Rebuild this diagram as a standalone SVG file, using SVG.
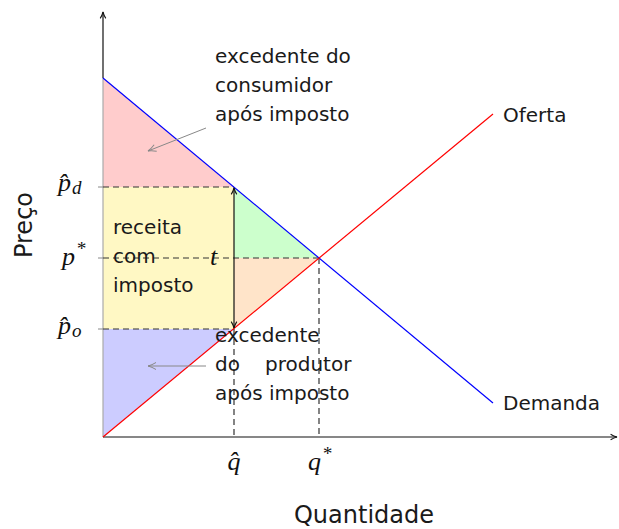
<svg xmlns="http://www.w3.org/2000/svg" width="619" height="529" viewBox="0 0 619 529">
<defs>
<style>
.txt{font-family:"DejaVu Sans",sans-serif;font-size:20px;fill:#1a1a1a}
.big{font-family:"DejaVu Sans",sans-serif;font-size:24px;fill:#1a1a1a}
.math{font-family:"Liberation Serif","DejaVu Serif",serif;font-style:italic;font-size:26px;fill:#111}
.sub{font-size:19px}
.dash{stroke:#333;stroke-width:1.2;stroke-dasharray:6,4;fill:none}
.axis{stroke:#111;stroke-width:1.2;fill:none}
.hint{stroke:#888;stroke-width:1;fill:none}
</style>
<marker id="ab" viewBox="0 0 10 10" refX="9" refY="5" markerWidth="8" markerHeight="8" orient="auto-start-reverse" markerUnits="userSpaceOnUse">
<path d="M1,1.5 Q5,4 9,5 Q5,6 1,8.5" fill="none" stroke="#111" stroke-width="1.3"/>
</marker>
<marker id="ag" viewBox="0 0 10 10" refX="9" refY="5" markerWidth="10" markerHeight="10" orient="auto" markerUnits="userSpaceOnUse">
<path d="M1,1.5 Q5,4 9,5 Q5,6 1,8.5" fill="none" stroke="#888" stroke-width="1"/>
</marker>
</defs>
<rect width="619" height="529" fill="#fff"/>

<g id="areas">
<polygon points="103,78 234,187 103,187" fill="#ffcccc"/>
<rect x="103" y="187" width="131" height="142" fill="#fff8c4"/>
<polygon points="234,187 319,258 234,258" fill="#ccffcc"/>
<polygon points="234,258 319,258 234,329" fill="#ffe4c9"/>
<polygon points="103,329 234,329 103,437" fill="#ccccff"/>
</g>

<g id="connectors">
<line class="axis" x1="103" y1="78" x2="103" y2="12" marker-end="url(#ab)"/>
<line x1="103" y1="78" x2="103" y2="437" stroke="#aaa" stroke-width="1.2"/>
<line class="axis" x1="103" y1="437" x2="617" y2="437" marker-end="url(#ab)"/>
<line x1="98" y1="187" x2="103" y2="187" stroke="#888" stroke-width="1"/>
<line x1="98" y1="258" x2="103" y2="258" stroke="#888" stroke-width="1"/>
<line x1="98" y1="329" x2="103" y2="329" stroke="#888" stroke-width="1"/>
<line class="dash" x1="103" y1="187" x2="234" y2="187"/>
<line class="dash" x1="103" y1="258" x2="319" y2="258"/>
<line class="dash" x1="103" y1="329" x2="234" y2="329"/>
<line class="dash" x1="234" y1="329" x2="234" y2="437"/>
<line class="dash" x1="319" y1="258" x2="319" y2="437"/>
<line x1="103" y1="78" x2="493" y2="403" stroke="#0000ff" stroke-width="1.2"/>
<line x1="103" y1="437" x2="493" y2="114" stroke="#ff0000" stroke-width="1.2"/>
<line class="axis" x1="234" y1="258" x2="234" y2="188" marker-end="url(#ab)"/>
<line class="axis" x1="234" y1="258" x2="234" y2="328" marker-end="url(#ab)"/>
<line class="hint" x1="206" y1="128" x2="148" y2="151" marker-end="url(#ag)"/>
<line class="hint" x1="206" y1="366" x2="148" y2="366" marker-end="url(#ag)"/>
</g>

<g id="label-cs">
<text class="txt" x="215" y="63">excedente do</text>
<text class="txt" x="215" y="92">consumidor</text>
<text class="txt" x="215" y="121">após imposto</text>
</g>
<g id="label-receita">
<text class="txt" x="113" y="234">receita</text>
<text class="txt" x="113" y="263">com</text>
<text class="txt" x="113" y="292">imposto</text>
</g>
<g id="label-t"><text class="math" x="210" y="265">t</text></g>
<g id="label-ps">
<text class="txt" x="215" y="342">excedente</text>
<text class="txt" x="215" y="371">do</text>
<text class="txt" x="265" y="371">produtor</text>
<text class="txt" x="215" y="400">após imposto</text>
</g>
<g id="label-oferta"><text class="txt" x="503" y="122">Oferta</text></g>
<g id="label-demanda"><text class="txt" x="503" y="410">Demanda</text></g>
<g id="label-quantidade"><text class="big" x="364" y="523" text-anchor="middle">Quantidade</text></g>
<g id="label-preco"><text class="big" transform="translate(32,225) rotate(-90)" text-anchor="middle">Preço</text></g>

<g id="label-pd">
<text class="math" x="58" y="191">p̂<tspan class="sub" dx="1" dy="3">d</tspan></text>
</g>
<g id="label-pstar">
<text class="math" x="62" y="265">p<tspan class="sub" dx="1" dy="-10">*</tspan></text>
</g>
<g id="label-po">
<text class="math" x="58" y="334">p̂<tspan class="sub" dx="1" dy="3">o</tspan></text>
</g>
<g id="label-qhat">
<text class="math" x="234" y="470" text-anchor="middle">q̂</text>
</g>
<g id="label-qstar">
<text class="math" x="308" y="470">q<tspan class="sub" dx="1" dy="-10">*</tspan></text>
</g>
</svg>
